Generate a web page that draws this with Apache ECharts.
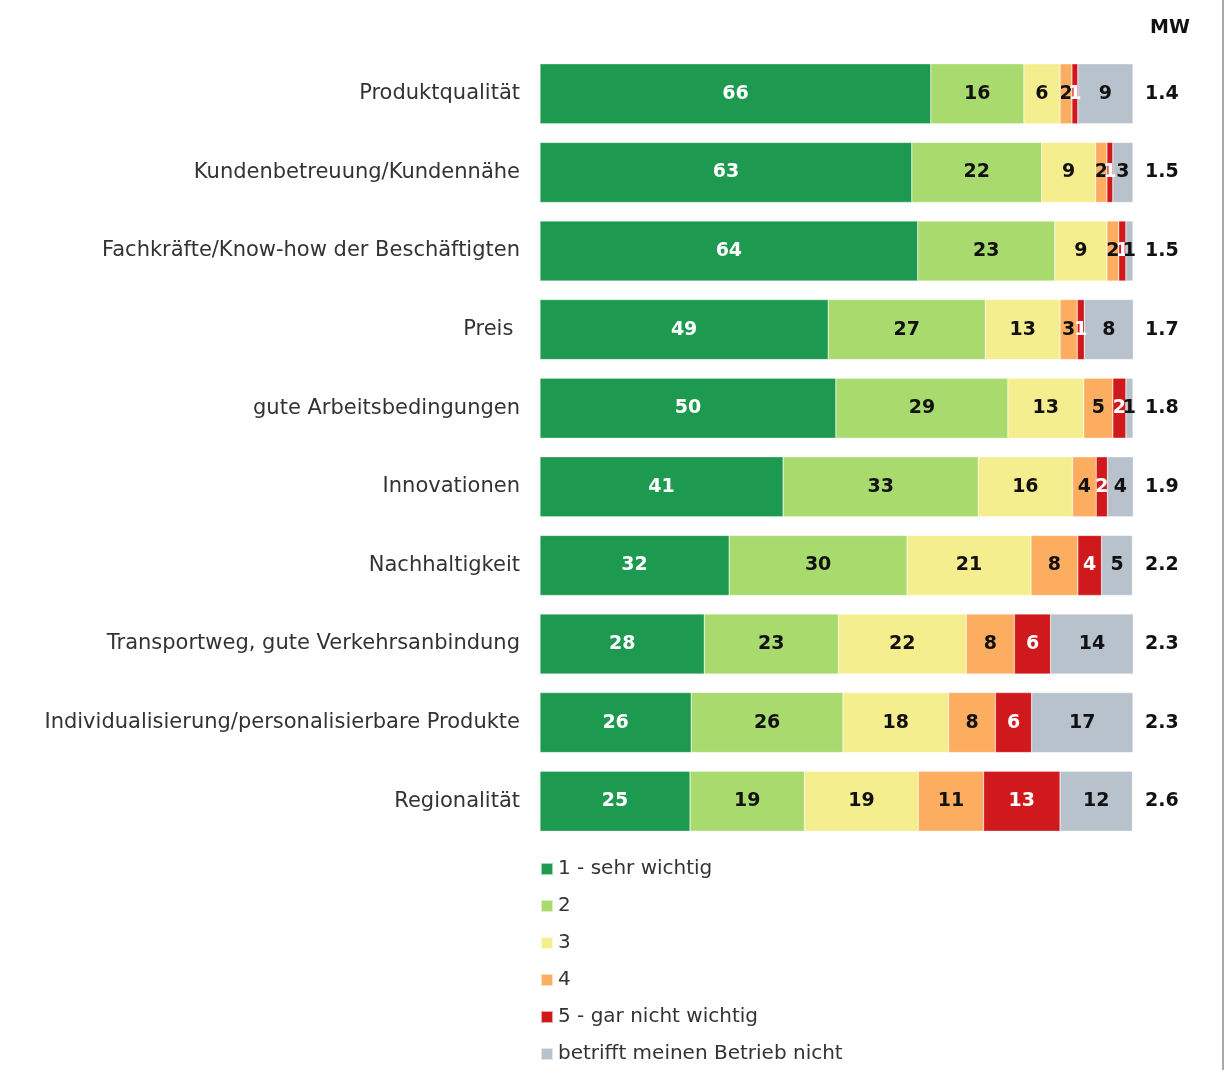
<!DOCTYPE html>
<html>
<head>
<meta charset="utf-8">
<script src="https://cdn.jsdelivr.net/npm/echarts@6/dist/echarts.min.js"></script>
<style>html,body{margin:0;padding:0;background:#fff;}#c{width:1231px;height:1070px;}</style>
</head>
<body>
<div id="c"></div>
<script>
const categories = ["Produktqualität","Kundenbetreuung/Kundennähe","Fachkräfte/Know-how der Beschäftigten","Preis ","gute Arbeitsbedingungen","Innovationen","Nachhaltigkeit","Transportweg, gute Verkehrsanbindung","Individualisierung/personalisierbare Produkte","Regionalität"];
const seriesNames = ["1 - sehr wichtig","2","3","4","5 - gar nicht wichtig","betrifft meinen Betrieb nicht"];
const s1 = [65.9,62.7,63.7,48.6,49.9,41.0,31.9,27.7,25.5,25.3];
const s2 = [15.7,21.9,23.1,26.5,29.0,32.9,30.0,22.6,25.6,19.3];
const s3 = [6.1,9.1,8.8,12.6,12.8,15.9,20.9,21.6,17.8,19.2];
const s4 = [2.0,1.9,2.0,2.9,4.9,4.0,7.9,8.1,7.9,11.0];
const s5 = [1.0,1.0,1.2,1.2,2.2,1.9,4.0,6.1,6.1,12.9];
const s6 = [9.3,3.4,1.2,8.3,1.2,4.4,5.2,14.0,17.1,12.2];
const mw = ["1.4","1.5","1.5","1.7","1.8","1.9","2.2","2.3","2.3","2.6"];
const colors = ["#1d9a4f","#a8da6d","#f5ee8f","#fcad5f","#d0191d","#b8c2cc"];
const labelColors = ["#ffffff","#111111","#111111","#111111","#ffffff","#111111"];
const allData = [s1,s2,s3,s4,s5,s6];

const FONT = "'DejaVu Sans', 'Noto Sans', sans-serif";
const chart = echarts.init(document.getElementById('c'), null, {renderer:'canvas'});
const series = allData.map((d,i)=>({
  name: seriesNames[i],
  type: 'bar',
  stack: 'total',
  barWidth: 60,
  data: d,
  itemStyle: {color: colors[i], borderColor: 'rgba(255,255,255,0.6)', borderWidth: 0.5},
  label: {
    show: true,
    position: 'inside',
    color: labelColors[i],
    fontFamily: FONT,
    fontWeight: 'bold',
    fontSize: 19,
    formatter: p => String(Math.round(p.value))
  },
  emphasis: {disabled: true}
}));

chart.setOption({
  animation: false,
  backgroundColor: '#ffffff',
  title: {
    text: 'MW', left: 1145, top: 14,
    textStyle: {fontFamily: FONT, fontWeight: 'bold', fontSize: 19, color: '#111'}
  },
  legend: {
    orient: 'vertical',
    left: 535, top: 854,
    itemWidth: 12, itemHeight: 12, itemGap: 17,
    icon: 'rect',
    data: seriesNames,
    textStyle: {fontFamily: FONT, fontSize: 20, color: '#333'}
  },
  grid: {left: 540, right: 98, top: 54.5, height: 786, containLabel: false},
  xAxis: {type: 'value', min: 0, max: 100, show: false},
  yAxis: [{
    type: 'category', data: categories, inverse: true,
    axisLine: {show: false}, axisTick: {show: false},
    axisLabel: {fontFamily: FONT, fontSize: 21, color: '#333', margin: 20}
  },{
    type: 'category', data: categories, inverse: true, position: 'right',
    axisLine: {show: false}, axisTick: {show: false},
    axisLabel: {fontFamily: FONT, fontSize: 19, fontWeight: 'bold', color: '#111', margin: 12, align: 'left',
      formatter: (v, idx) => mw[idx]}
  }],
  series: series,
  graphic: [{
    type: 'rect', left: 1222, top: 0, shape: {width: 2, height: 1070},
    style: {fill: '#a9a9a9'}, silent: true
  }]
});
</script>
</body>
</html>
